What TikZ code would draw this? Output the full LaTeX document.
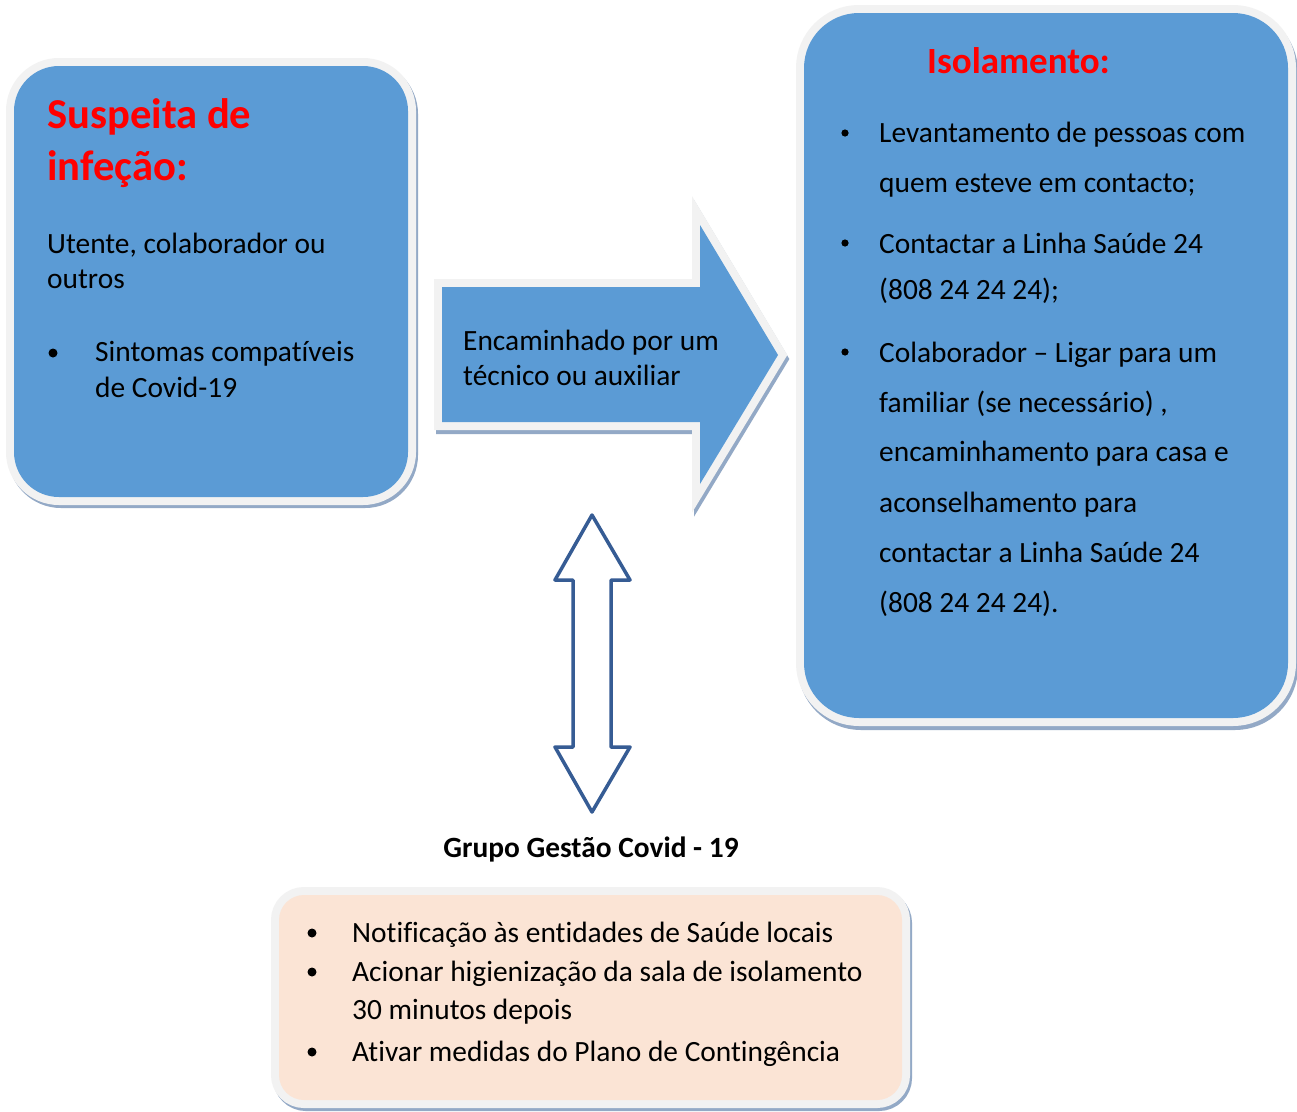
\documentclass[tikz,border=0pt]{standalone}
\usepackage{fontspec}
\setmainfont{Carlito}[Ligatures=CommonOff]
\definecolor{boxblue}{HTML}{5B9BD5}
\definecolor{rimgray}{HTML}{F2F2F2}
\definecolor{shadowc}{HTML}{93A9C6}
\definecolor{peach}{HTML}{FBE4D5}
\definecolor{darrow}{HTML}{365C94}
\definecolor{titlered}{HTML}{FF0000}
\tikzset{
  rim/.style={draw=rimgray, line width=16pt, line join=miter},
  rimshadow/.style={draw=shadowc, line width=16pt, line join=miter},
  body/.style={font=\fontsize{29.4}{35}\selectfont, anchor=base west, inner sep=0pt, text=black},
  bigtitle/.style={font=\fontsize{42.6}{51}\selectfont\bfseries, anchor=base west, inner sep=0pt, text=titlered},
  midtitle/.style={font=\fontsize{37}{45}\selectfont\bfseries, anchor=base west, inner sep=0pt, text=titlered},
  bolddark/.style={font=\fontsize{29.4}{35}\selectfont\bfseries, anchor=base, inner sep=0pt, text=black},
  dot/.style={fill=black}
}
\begin{document}
\begin{tikzpicture}[x=1pt,y=-1pt]
\useasboundingbox[fill=white] (0,0) rectangle (1297,1111);

% ---------- left box ----------
\draw[rimshadow, rounded corners=45] (16,69) rectangle (410,500);
\draw[rim, rounded corners=45] (14,66) rectangle (408,497);
\fill[boxblue, rounded corners=45] (14,66) rectangle (408,497);

% ---------- right box ----------
\draw[rimshadow, rounded corners=55] (806,17) rectangle (1290,722);
\draw[rim, rounded corners=55] (804,13) rectangle (1288,718);
\fill[boxblue, rounded corners=55] (804,13) rectangle (1288,718);

% ---------- block arrow ----------
\draw[rimshadow] (444,291) -- (702,291) -- (702,229) -- (780,359) -- (702,488) -- (702,426) -- (444,426) -- cycle;
\draw[rim] (442,287) -- (700,287) -- (700,225) -- (778,355) -- (700,484) -- (700,422) -- (442,422) -- cycle;
\fill[boxblue] (442,287) -- (700,287) -- (700,225) -- (778,355) -- (700,484) -- (700,422) -- (442,422) -- cycle;

% ---------- bottom box ----------
\draw[rimshadow, rounded corners=25] (281,898) rectangle (904,1103);
\draw[rim, rounded corners=25] (279,895) rectangle (902,1100);
\fill[peach, rounded corners=25] (279,895) rectangle (902,1100);

% ---------- double arrow ----------
\coordinate (dtop) at (592,515);
\coordinate (dbot) at (592,812);
\draw[draw=darrow, fill=white, line width=3.5pt, line join=round]
  (dtop) -- (630,580) -- (611,580) -- (611,747) -- (630,747) -- (dbot)
  -- (555,747) -- (573,747) -- (573,580) -- (555,580) -- cycle;

% ---------- left box text ----------
\node[bigtitle] (l1) at (47,128) {Suspeita de};
\node[bigtitle] (l2) at (47,180) {infeção:};
\node[body] (l3) at (47,253) {Utente, colaborador ou};
\node[body] (l4) at (47,288) {outros};
\fill[dot] (53,353) circle (4.5);
\node[body] (l5) at (95,361) {Sintomas compatíveis};
\node[body] (l6) at (95,397) {de Covid-19};

% ---------- arrow text ----------
\node[body] (a1) at (463,350) {Encaminhado por um};
\node[body] (a2) at (463,385) {técnico ou auxiliar};

% ---------- right box text ----------
\node[midtitle] (r0) at (927,73) {Isolamento:};
\fill[dot] (845,133) circle (3.6);
\node[body] (r1) at (879,142) {Levantamento de pessoas com};
\node[body] (r2) at (879,192) {quem esteve em contacto;};
\fill[dot] (845,243) circle (3.6);
\node[body] (r3) at (879,253) {Contactar a Linha Saúde 24};
\node[body] (r4) at (879,299) {(808 24 24 24);};
\fill[dot] (845,352) circle (3.6);
\node[body] (r5) at (879,362) {Colaborador – Ligar para um};
\node[body] (r6) at (879,412) {familiar (se necessário) ,};
\node[body] (r7) at (879,461) {encaminhamento para casa e};
\node[body] (r8) at (879,512) {aconselhamento para};
\node[body] (r9) at (879,562) {contactar a Linha Saúde 24};
\node[body] (r10) at (879,612) {(808 24 24 24).};

% ---------- caption ----------
\node[bolddark] (g) at (591,857) {Grupo Gestão Covid - 19};

% ---------- bottom box text ----------
\fill[dot] (312,933) circle (4.5);
\node[body] (b1) at (352,942) {Notificação às entidades de Saúde locais};
\fill[dot] (312,972) circle (4.5);
\node[body] (b2) at (352,981) {Acionar higienização da sala de isolamento};
\node[body] (b3) at (352,1019) {30 minutos depois};
\fill[dot] (312,1052) circle (4.5);
\node[body] (b4) at (352,1061) {Ativar medidas do Plano de Contingência};
\end{tikzpicture}
\end{document}
